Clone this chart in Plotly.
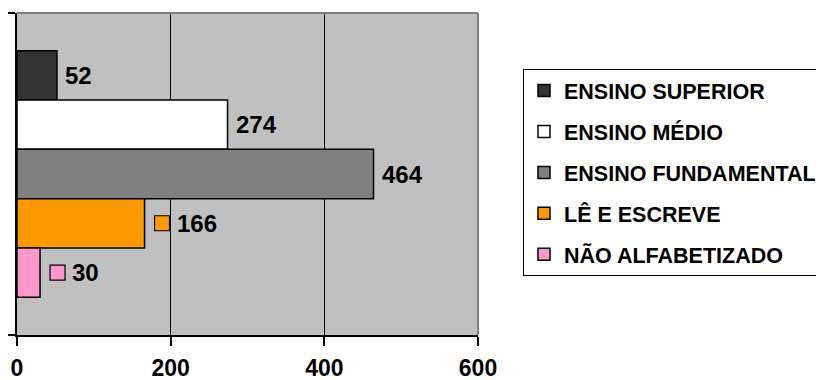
import plotly.graph_objects as go

# Data (top-to-bottom order as in the reference)
series_names = ["ENSINO SUPERIOR", "ENSINO MÉDIO", "ENSINO FUNDAMENTAL", "LÊ E ESCREVE", "NÃO ALFABETIZADO"]
series_values = [52, 274, 464, 166, 30]
series_colors = ["#333333", "#FFFFFF", "#808080", "#FF9900", "#FF99CC"]
show_key = [False, False, False, True, True]
x_ticks = [0, 200, 400, 600]

BARGAP = 0.235
FONT = "Arial, Liberation Sans, sans-serif"

fig = go.Figure()
for name, val, col in zip(series_names, series_values, series_colors):
    fig.add_trace(go.Bar(
        x=[val], y=[0], orientation="h", name=name, legendgroup=name,
        marker=dict(color=col, line=dict(color="#000000", width=1.5)),
        hoverinfo="skip",
    ))

n = len(series_names)
group = 1 - BARGAP
w = group / n
for i, (val, col, key) in enumerate(zip(series_values, series_colors, show_key)):
    yc = -group / 2 + w * (i + 0.5)
    shift = 6
    if key:
        fig.add_shape(type="rect", xref="x", yref="y", xsizemode="pixel", ysizemode="pixel",
                      xanchor=val, yanchor=yc, x0=10, x1=25, y0=-7.5, y1=7.5,
                      fillcolor=col, line=dict(color="#000000", width=1.2), layer="above")
        shift = 30
    fig.add_annotation(x=val, y=yc, xref="x", yref="y", text=str(val), showarrow=False,
                       xanchor="left", yanchor="middle", xshift=shift,
                       font=dict(family=FONT, size=24, color="#000000", weight="bold"))

# gray top/right border of plot area
fig.add_shape(type="line", xref="paper", yref="paper", x0=0, x1=1, y0=1, y1=1,
              line=dict(color="#808080", width=2), layer="above")
fig.add_shape(type="line", xref="paper", yref="paper", x0=1, x1=1, y0=0, y1=1,
              line=dict(color="#808080", width=2), layer="above")

fig.update_layout(
    width=816, height=372,
    margin=dict(l=9, r=346, t=5, b=45, autoexpand=False),
    paper_bgcolor="#FFFFFF", plot_bgcolor="#C0C0C0",
    barmode="group", bargap=BARGAP, bargroupgap=0,
    showlegend=True,
    legend=dict(x=1.0976, y=0.826, xanchor="left", yanchor="top",
                traceorder="grouped", tracegroupgap=10,
                bordercolor="#000000", borderwidth=1, bgcolor="#FFFFFF",
                font=dict(family=FONT, size=21.5, color="#000000", weight="bold")),
    xaxis=dict(range=[0, 600], tickvals=x_ticks, ticktext=[str(t) for t in x_ticks],
               showgrid=True, gridcolor="#000000", gridwidth=1,
               zeroline=False, showline=True, linecolor="#000000", linewidth=2,
               ticks="outside", ticklen=9, tickcolor="#000000", tickwidth=1.5,
               ticklabelstandoff=2,
               tickfont=dict(family=FONT, size=23, color="#000000", weight="bold"),
               fixedrange=True),
    yaxis=dict(range=[0.5, -0.5], tickvals=[-0.5, 0.5], showticklabels=False,
               showgrid=False, zeroline=False, showline=True, linecolor="#000000", linewidth=2,
               ticks="outside", ticklen=9, tickcolor="#000000", tickwidth=1.5,
               fixedrange=True),
)

fig.write_html("out.html")
